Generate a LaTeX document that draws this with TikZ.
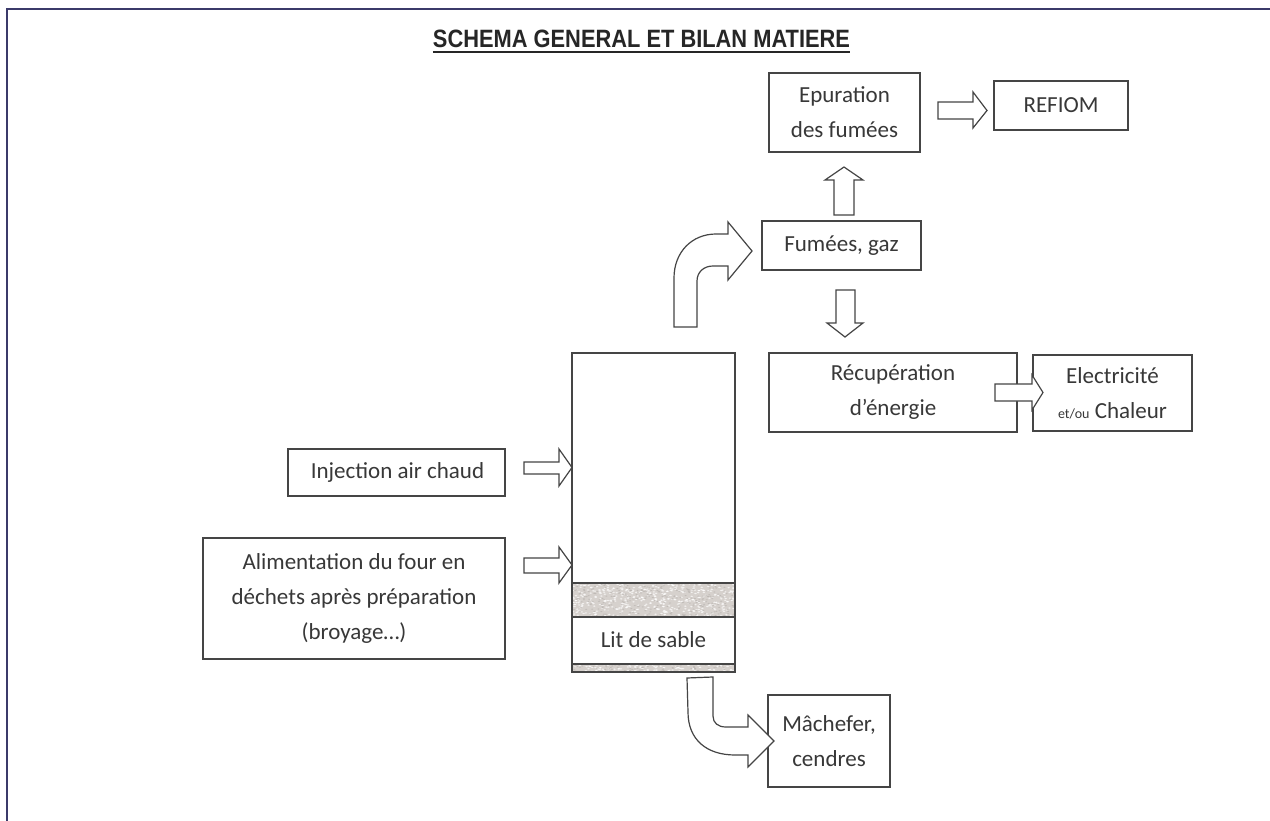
\documentclass[tikz,border=0pt]{standalone}
\usepackage{graphicx}
\usepackage{fontspec}
\setmainfont{Carlito}
\newfontfamily\titlefont{Liberation Sans}
\definecolor{ink}{HTML}{454545}
\definecolor{txt}{HTML}{383838}
\definecolor{framecol}{HTML}{3B3A6A}
\definecolor{sand}{RGB}{214,209,205}
\definecolor{sanddark}{RGB}{185,180,176}

\begin{document}
\begin{tikzpicture}[x=1pt,y=-1pt,
  box/.style={draw=ink, line width=1.4pt, align=center, inner sep=0pt,
    text=txt, font=\fontsize{23}{35}\selectfont},
  blockarrow/.style={draw=ink, line width=1.2pt, fill=white, line join=miter}]

% page and frame
\fill[white] (0,0) rectangle (1270,821);
\useasboundingbox (0,0) rectangle (1270,821);
\draw[framecol, line width=2.5pt] (1270,9) -- (7,9) -- (7,821);

% title
\node[inner sep=0pt, text=black!85] (titre) at (641.5,39)
  {\resizebox{417pt}{17.5pt}{\titlefont\bfseries SCHEMA GENERAL ET BILAN MATIERE}};
\draw[black!85, line width=2pt] ([yshift=-4pt]titre.south west) -- ([yshift=-4pt]titre.south east);

% process boxes
\node[box, minimum width=151pt, minimum height=79pt] (epur) at (844.5,112.5) {Epuration\\des fumées};
\node[box, minimum width=134pt, minimum height=49pt] (refiom) at (1061,105.5) {REFIOM};
\node[box, minimum width=159pt, minimum height=49pt] (fumees) at (841.5,245.5) {Fumées, gaz};
\node[box, minimum width=248pt, minimum height=79pt] (recup) at (893,392.5) {Récupération\\d’énergie};
\node[box, minimum width=159pt, minimum height=76pt] (elec) at (1112.5,393) {Electricité\\{\fontsize{14}{14}\selectfont et/ou} Chaleur};
\node[box, minimum width=217pt, minimum height=47pt] (air) at (396.5,472.5) {\hspace*{2pt}Injection air chaud};
\node[box, minimum width=302pt, minimum height=121pt] (alim) at (354,598.5) {Alimentation du four en\\déchets après préparation\\(broyage…)};
\node[box, minimum width=122pt, minimum height=92pt] (mache) at (829,741) {Mâchefer,\\cendres};

% furnace with its sand bed
\begin{scope}
  \clip (572,583) rectangle (735,617);
  \fill[sand] (572,583) rectangle (735,617);
  \pgfmathsetseed{11}
  \foreach \i in {1,...,500}{
    \pgfmathsetmacro\px{572+163*rnd}
    \pgfmathsetmacro\py{583+34*rnd}
    \fill[white, opacity=0.7] (\px,\py) ellipse (1.4pt and 0.7pt);
  }
  \foreach \i in {1,...,300}{
    \pgfmathsetmacro\px{572+163*rnd}
    \pgfmathsetmacro\py{583+34*rnd}
    \fill[sanddark, opacity=0.7] (\px,\py) ellipse (1.2pt and 0.6pt);
  }
\end{scope}
\begin{scope}
  \clip (572,664) rectangle (735,672);
  \fill[sand] (572,664) rectangle (735,672);
  \foreach \i in {1,...,120}{
    \pgfmathsetmacro\px{572+163*rnd}
    \pgfmathsetmacro\py{664+8*rnd}
    \fill[white, opacity=0.7] (\px,\py) ellipse (1.4pt and 0.7pt);
  }
  \foreach \i in {1,...,80}{
    \pgfmathsetmacro\px{572+163*rnd}
    \pgfmathsetmacro\py{664+8*rnd}
    \fill[sanddark, opacity=0.7] (\px,\py) ellipse (1.2pt and 0.6pt);
  }
\end{scope}
\node[draw=ink, line width=1.4pt, inner sep=0pt, minimum width=163pt, minimum height=319pt] (four) at (653.5,512.5) {};
\draw[ink, line width=1.4pt] (572,583) -- (735,583);
\draw[ink, line width=1.4pt] (572,617) -- (735,617);
\draw[ink, line width=1.4pt] (572,664) -- (735,664);
\node[text=txt, font=\fontsize{23}{35}\selectfont, inner sep=0pt] (lit) at (653.5,640) {Lit de sable};

% straight block arrows
\draw[blockarrow] (938,102) -- (973,102) -- (973,92) -- (987,110.5) -- (973,128) -- (973,119) -- (938,119) -- cycle;
\draw[blockarrow] (834,215) -- (834,180) -- (825,180) -- (844,167) -- (863,180) -- (854,180) -- (854,215) -- cycle;
\draw[blockarrow] (836,290) -- (836,323) -- (827,323) -- (845,337) -- (863,323) -- (855,323) -- (855,290) -- cycle;
\draw[blockarrow] (995,384) -- (1032,384) -- (1032,375) -- (1043,392.5) -- (1032,410) -- (1032,401) -- (995,401) -- cycle;
\draw[blockarrow] (524,462) -- (559,462) -- (559,449) -- (572,467.5) -- (559,486) -- (559,474) -- (524,474) -- cycle;
\draw[blockarrow] (524,558) -- (559,558) -- (559,547) -- (572,565) -- (559,583) -- (559,573) -- (524,573) -- cycle;

% bent block arrows
\draw[blockarrow] (674,327) -- (674,278) .. controls (674,252) and (692,234) .. (716,234)
  -- (728,234) -- (728,222) -- (752,251) -- (728,280) -- (728,266) -- (713,266)
  .. controls (704,266) and (697,272) .. (697,281) -- (697,327) -- cycle;
\draw[blockarrow] (687,678) -- (713,677) -- (713,716) .. controls (713,723) and (718,727) .. (726,727)
  -- (748,727) -- (748,715) -- (774,741) -- (748,767) -- (748,755) -- (735,755)
  .. controls (707,755) and (688,740) .. (688,712) -- cycle;
\end{tikzpicture}
\end{document}
